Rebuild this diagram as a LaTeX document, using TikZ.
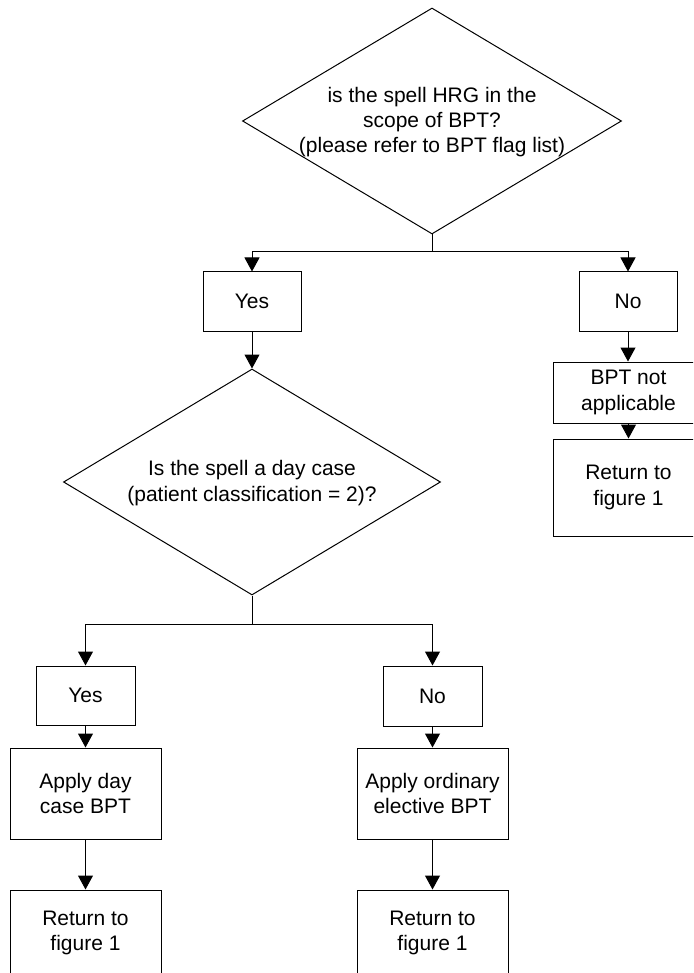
\documentclass[tikz,border=0pt]{standalone}
\usepackage{fontspec}
\setmainfont{Liberation Sans}
\usetikzlibrary{shapes.geometric,arrows.meta}
\tikzset{
  box/.style={draw=black, line width=1pt, rectangle, inner sep=0pt, align=center, font=\fontsize{21}{25.3}\selectfont},
  dia/.style={draw=black, line width=1pt, diamond, inner sep=0pt},
  lbl/.style={align=center, inner sep=0pt, font=\fontsize{21}{25.3}\selectfont},
  conn/.style={line width=1pt, draw=black},
  arr/.style={conn, -{Triangle[width=15pt,length=14pt]}}
}
\begin{document}
\begin{tikzpicture}[x=1pt,y=-1pt]
\useasboundingbox (0,0) rectangle (693,973);
\clip (0,0) rectangle (693,973);
% top decision
\node[dia, minimum width=379pt, minimum height=226pt] (d1) at (432,121) {};
\node[lbl] (t1) at (432,122) {is the spell HRG in the\\scope of BPT?\\(please refer to BPT flag list)};
\node[box, minimum width=98pt, minimum height=59pt] (yes1) at (252,301.5) {Yes};
\node[box, minimum width=98pt, minimum height=59pt] (no1) at (628,301.5) {No};
\node[box, minimum width=151pt, minimum height=61pt] (na) at (628.5,392.5) {BPT not\\applicable};
\node[box, minimum width=151pt, minimum height=97pt] (ret0) at (628.5,487.5) {Return to\\figure 1};
% second decision
\node[dia, minimum width=377pt, minimum height=226pt] (d2) at (252,482) {};
\node[lbl] (t2) at (252,483) {Is the spell a day case\\(patient classification = 2)?};
\node[box, minimum width=99pt, minimum height=59pt] (yes2) at (85.5,695.5) {Yes};
\node[box, minimum width=99pt, minimum height=60pt] (no2) at (432.5,696) {No};
\node[box, minimum width=151pt, minimum height=91pt] (ap1) at (85.5,793.5) {Apply day\\case BPT};
\node[box, minimum width=151pt, minimum height=91pt] (ap2) at (432.5,793.5) {Apply ordinary\\elective BPT};
\node[box, minimum width=151pt, minimum height=86pt] (ret1) at (85.5,933) {Return to\\figure 1};
\node[box, minimum width=151pt, minimum height=86pt] (ret2) at (432.5,933) {Return to\\figure 1};
% connectors
\coordinate (j1) at (432,252);
\draw[conn] (d1.south) -- (j1);
\draw[arr] (j1) -| (yes1.north);
\draw[arr] (j1) -| (no1.north);
\draw[arr] (yes1.south) -- (d2.north);
\draw[arr] (no1.south) -- (na.north -| no1.south);
\draw[arr] (na.south) -- (ret0.north);
\coordinate (j2) at (252,624);
\draw[conn] (d2.south) -- (j2);
\draw[arr] (j2) -| (yes2.north);
\draw[arr] (j2) -| (no2.north);
\draw[arr] (yes2.south) -- (ap1.north);
\draw[arr] (no2.south) -- (ap2.north);
\draw[arr] (ap1.south) -- (ret1.north);
\draw[arr] (ap2.south) -- (ret2.north);
\end{tikzpicture}
\end{document}
